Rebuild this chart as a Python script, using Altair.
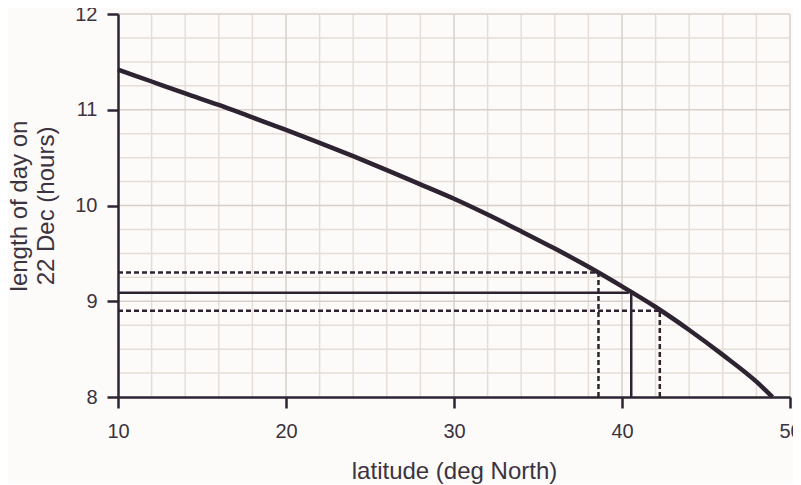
import altair as alt
import pandas as pd

# day length curve
latitude = [10, 12, 14, 16, 18, 20, 22, 24, 26, 28, 30, 32, 34, 36, 38, 40, 42, 44, 46, 48, 48.95]
hours = [11.42, 11.295, 11.17, 11.05, 10.92, 10.79, 10.655, 10.515, 10.37, 10.22, 10.07,
         9.905, 9.73, 9.55, 9.36, 9.155, 8.94, 8.70, 8.44, 8.16, 8.0]

# guide lines
solid_h = {"x": [10], "x2": [40.4], "y": [9.09], "y2": [9.09]}
solid_v = {"x": [40.55], "x2": [40.55], "y": [8.0], "y2": [9.09]}
dash_x = [10, 38.6, 10, 42.25]
dash_x2 = [38.6, 38.6, 42.25, 42.25]
dash_y = [9.30, 8.0, 8.90, 8.0]
dash_y2 = [9.30, 9.30, 8.90, 8.90]

# grid positions
x_minor = [12, 14, 16, 18, 22, 24, 26, 28, 32, 34, 36, 38, 42, 44, 46, 48]
x_major = [20, 30, 40, 50]
y_minor = [8.25, 8.5, 8.75, 9.25, 9.5, 9.75, 10.25, 10.5, 10.75, 11.25, 11.5, 11.75]
y_major = [9, 10, 11, 12]

x_ticks = [10, 20, 30, 40, 50]
y_ticks = [8, 9, 10, 11, 12]

INK = "#2e2330"
TXT = "#3b3340"

xs = alt.Scale(domain=[10, 50], nice=False, zero=False)
ys = alt.Scale(domain=[8, 12], nice=False, zero=False)

curve_df = pd.DataFrame({"lat": latitude, "hrs": hours})

xgrid_minor = alt.Chart(pd.DataFrame({"v": x_minor})).mark_rule(color="#e6ded6", strokeWidth=1.5).encode(
    x=alt.X("v:Q", scale=xs))
xgrid_major = alt.Chart(pd.DataFrame({"v": x_major})).mark_rule(color="#d8d0c8", strokeWidth=1.5).encode(
    x=alt.X("v:Q", scale=xs))
ygrid_minor = alt.Chart(pd.DataFrame({"v": y_minor})).mark_rule(color="#e6ded6", strokeWidth=1.5).encode(
    y=alt.Y("v:Q", scale=ys))
ygrid_major = alt.Chart(pd.DataFrame({"v": y_major})).mark_rule(color="#d8d0c8", strokeWidth=1.5).encode(
    y=alt.Y("v:Q", scale=ys))

curve = alt.Chart(curve_df).mark_line(color=INK, strokeWidth=4.5, interpolate="monotone").encode(
    x=alt.X("lat:Q", scale=xs,
            axis=alt.Axis(values=x_ticks, title="latitude (deg North)", grid=False, format="d",
                          labelFlush=False, labelPadding=13, titleY=81,
                          titleBaseline="alphabetic", zindex=1)),
    y=alt.Y("hrs:Q", scale=ys,
            axis=alt.Axis(values=y_ticks, title=["length of day on", "22 Dec (hours)"], grid=False,
                          format="d", labelFlush=False, labelPadding=10, titleX=-92,
                          titleBaseline="alphabetic", titleLineHeight=27, zindex=1)),
)

solid_df = pd.DataFrame({k: solid_h[k] + solid_v[k] for k in solid_h})
solid = alt.Chart(solid_df).mark_rule(color=INK, strokeWidth=2.5).encode(
    x=alt.X("x:Q", scale=xs), x2="x2:Q", y=alt.Y("y:Q", scale=ys), y2="y2:Q")

dash_df = pd.DataFrame({"x": dash_x, "x2": dash_x2, "y": dash_y, "y2": dash_y2})
dashed = alt.Chart(dash_df).mark_rule(color=INK, strokeWidth=2.5, strokeDash=[5, 3]).encode(
    x=alt.X("x:Q", scale=xs), x2="x2:Q", y=alt.Y("y:Q", scale=ys), y2="y2:Q")

chart = alt.layer(
    xgrid_minor, ygrid_minor, xgrid_major, ygrid_major, solid, dashed, curve
).properties(
    width=672, height=383,
    autosize=alt.AutoSizeParams(type="none"),
    padding={"left": 110, "top": 6, "right": 3, "bottom": 87},
    background="#fcfbf9",
).configure_view(stroke=None).configure_axis(
    labelFont="Liberation Sans", titleFont="Liberation Sans",
    labelFontSize=20, titleFontSize=24, titleFontWeight="normal",
    labelColor=TXT, titleColor=TXT,
    domainColor=INK, domainWidth=2.5, tickColor=INK, tickWidth=2.5, tickSize=11,
)

chart.save("out.html", embed_options={"renderer": "svg", "actions": False})
